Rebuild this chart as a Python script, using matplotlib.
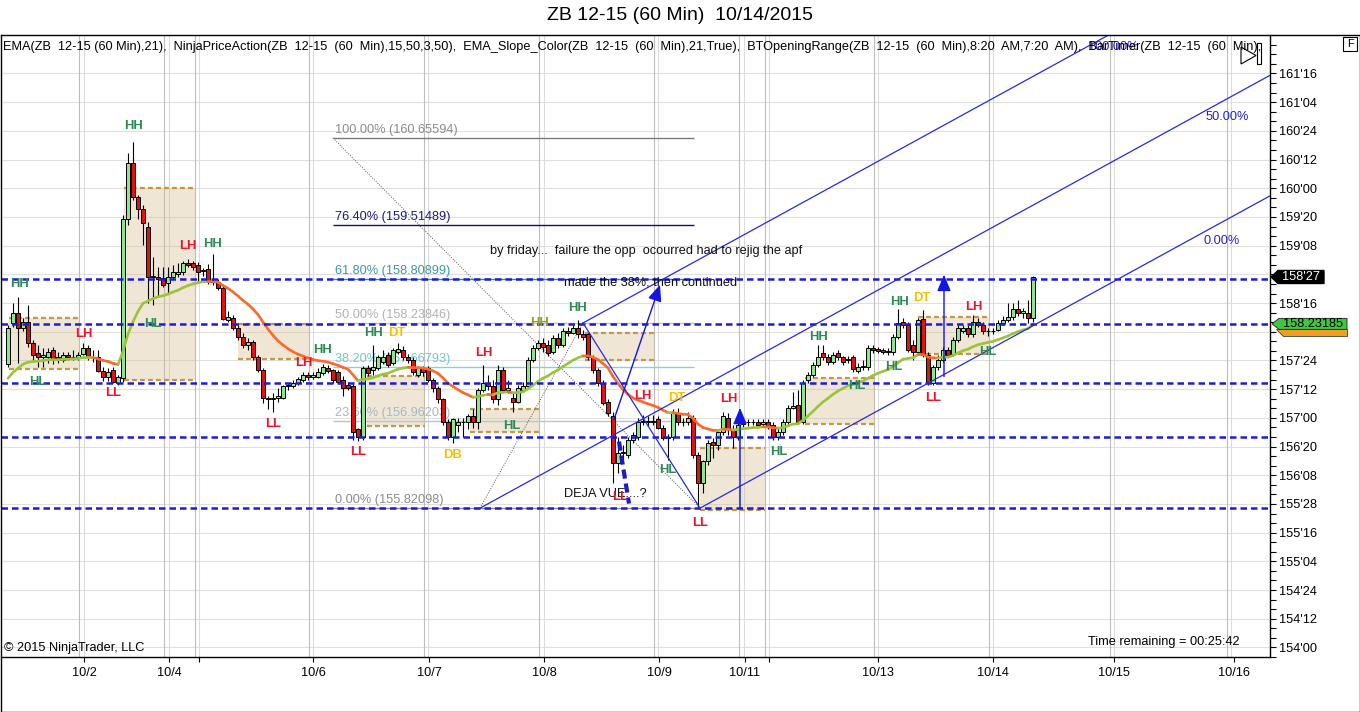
import numpy as np
import matplotlib
matplotlib.use('Agg')
import matplotlib.pyplot as plt
from matplotlib.collections import LineCollection
from matplotlib.patches import Rectangle, Polygon
from matplotlib.lines import Line2D

# ---------------- data ----------------
opens = [
157.70, 158.24, 158.37, 158.18, 158.25, 157.98, 157.85, 157.80, 157.80, 157.89,
157.79, 157.76, 157.82, 157.79, 157.79, 157.84, 157.91, 157.80, 157.80, 157.61,
157.54, 157.63, 157.46, 157.52, 159.60, 160.33, 159.89, 159.73, 159.50, 158.84,
158.84, 158.83, 158.76, 158.84, 158.88, 158.91, 159.03, 159.03, 159.00, 158.92,
158.95, 158.79, 158.78, 158.70, 158.28, 158.31, 158.18, 158.06, 157.95, 157.99,
157.80, 157.63, 157.26, 157.25, 157.26, 157.26, 157.41, 157.42, 157.46, 157.50,
157.56, 157.54, 157.54, 157.59, 157.65, 157.63, 157.60, 157.50, 157.43, 157.42,
156.85, 156.75, 157.65, 157.63, 157.65, 157.73, 157.82, 157.72, 157.86, 157.89,
157.80, 157.76, 157.56, 157.65, 157.65, 157.50, 157.39, 157.24, 156.95, 156.75,
156.91, 156.95, 156.94, 157.02, 156.94, 157.37, 157.45, 157.42, 157.24, 157.63,
157.37, 157.26, 157.21, 157.37, 157.41, 157.76, 157.91, 157.98, 157.95, 157.86,
158.04, 157.95, 158.13, 158.11, 158.18, 158.09, 158.09, 157.80, 157.63, 157.46,
157.21, 157.02, 156.41, 156.54, 156.52, 156.71, 156.75, 156.95, 156.96, 156.95,
156.98, 156.87, 156.74, 156.75, 157.07, 156.95, 156.94, 157.00, 156.52, 156.15,
156.43, 156.69, 156.65, 156.81, 157.00, 156.85, 156.75, 156.92, 156.95, 156.94,
156.95, 156.92, 156.95, 156.91, 156.75, 156.81, 156.94, 157.13, 157.17, 156.95,
157.50, 157.56, 157.69, 157.85, 157.80, 157.73, 157.85, 157.79, 157.76, 157.79,
157.61, 157.67, 157.67, 157.91, 157.90, 157.89, 157.88, 157.86, 158.06, 158.25,
158.21, 157.95, 157.86, 158.29, 157.82, 157.46, 157.67, 157.76, 157.89, 157.84,
158.02, 158.14, 158.18, 158.09, 158.25, 158.21, 158.13, 158.14, 158.15, 158.24,
158.28, 158.32, 158.42, 158.37, 158.37, 158.31]
highs = [
158.21, 158.50, 158.58, 158.31, 158.48, 158.02, 157.95, 157.91, 157.91, 157.93,
157.86, 157.86, 157.86, 157.89, 157.86, 157.98, 157.95, 157.89, 157.89, 157.67,
157.65, 157.67, 157.56, 159.65, 160.46, 160.61, 159.91, 159.78, 159.56, 159.10,
158.97, 158.97, 158.97, 159.00, 159.03, 159.05, 159.08, 159.05, 159.04, 158.96,
159.01, 159.14, 158.82, 158.74, 158.39, 158.35, 158.21, 158.11, 158.04, 158.02,
157.82, 157.65, 157.29, 157.32, 157.39, 157.43, 157.46, 157.50, 157.54, 157.60,
157.60, 157.60, 157.65, 157.71, 157.69, 157.64, 157.63, 157.55, 157.47, 157.46,
156.87, 157.68, 157.69, 157.95, 157.82, 157.89, 157.86, 157.91, 157.98, 157.94,
157.84, 157.79, 157.68, 157.68, 157.68, 157.52, 157.42, 157.26, 156.98, 157.00,
157.00, 157.00, 157.05, 157.11, 157.39, 157.69, 157.56, 157.50, 157.69, 157.67,
157.50, 157.33, 157.43, 157.47, 157.80, 157.95, 158.02, 158.04, 158.02, 158.08,
158.11, 158.18, 158.19, 158.21, 158.28, 158.15, 158.11, 157.82, 157.65, 157.50,
157.24, 157.08, 156.75, 156.65, 156.75, 156.82, 157.00, 157.04, 157.03, 157.04,
157.02, 156.91, 156.79, 157.11, 157.13, 157.00, 157.08, 157.04, 156.56, 156.45,
156.71, 156.74, 156.85, 157.08, 157.07, 156.91, 156.98, 157.00, 156.99, 156.99,
156.99, 156.98, 156.98, 156.94, 156.87, 156.98, 157.17, 157.34, 157.37, 157.50,
157.60, 157.73, 157.95, 157.95, 157.84, 157.86, 157.89, 157.81, 157.81, 157.82,
157.72, 157.76, 157.95, 157.95, 157.93, 157.91, 157.91, 158.09, 158.42, 158.31,
158.25, 158.02, 158.31, 158.41, 157.86, 157.69, 157.82, 157.93, 157.93, 158.06,
158.21, 158.21, 158.21, 158.35, 158.31, 158.25, 158.18, 158.17, 158.28, 158.33,
158.50, 158.50, 158.54, 158.44, 158.54, 158.86]
lows = [
157.66, 158.19, 157.72, 158.13, 157.93, 157.76, 157.67, 157.67, 157.72, 157.70,
157.72, 157.73, 157.76, 157.76, 157.76, 157.82, 157.76, 157.73, 157.60, 157.48,
157.48, 157.46, 157.43, 157.47, 159.52, 159.85, 159.60, 159.26, 158.50, 158.48,
158.58, 158.71, 158.63, 158.82, 158.84, 158.87, 158.97, 158.93, 158.79, 158.86,
158.75, 158.74, 158.67, 158.28, 158.25, 158.15, 158.02, 157.91, 157.89, 157.76,
157.60, 157.20, 157.11, 157.08, 157.21, 157.24, 157.37, 157.39, 157.43, 157.47,
157.50, 157.51, 157.52, 157.56, 157.58, 157.46, 157.45, 157.28, 157.37, 156.71,
156.70, 156.71, 157.55, 157.56, 157.63, 157.71, 157.67, 157.69, 157.84, 157.76,
157.72, 157.56, 157.54, 157.55, 157.47, 157.34, 157.20, 156.91, 156.71, 156.67,
156.82, 156.75, 156.85, 156.87, 156.85, 157.34, 157.37, 157.20, 157.17, 157.33,
157.33, 157.08, 157.19, 157.34, 157.38, 157.73, 157.89, 157.86, 157.81, 157.84,
157.91, 157.93, 158.07, 158.09, 158.05, 158.02, 157.76, 157.59, 157.42, 157.17,
157.03, 156.15, 156.28, 156.45, 156.48, 156.67, 156.71, 156.91, 156.90, 156.91,
156.85, 156.71, 156.45, 156.71, 156.91, 156.90, 156.91, 156.48, 155.83, 156.02,
156.39, 156.48, 156.58, 156.77, 156.78, 156.61, 156.71, 156.88, 156.90, 156.91,
156.88, 156.90, 156.86, 156.71, 156.71, 156.78, 156.91, 157.11, 156.92, 156.92,
157.46, 157.54, 157.67, 157.76, 157.69, 157.71, 157.76, 157.69, 157.72, 157.60,
157.59, 157.63, 157.63, 157.85, 157.85, 157.84, 157.82, 157.82, 158.03, 158.18,
157.86, 157.76, 157.82, 157.79, 157.43, 157.43, 157.63, 157.73, 157.79, 157.81,
157.99, 158.11, 158.06, 158.06, 158.19, 158.09, 158.07, 158.09, 158.13, 158.21,
158.25, 158.28, 158.33, 158.31, 158.24, 158.25]
closes = [
158.18, 158.37, 158.18, 158.25, 157.98, 157.82, 157.80, 157.82, 157.86, 157.76,
157.76, 157.82, 157.79, 157.80, 157.82, 157.91, 157.80, 157.79, 157.61, 157.54,
157.60, 157.47, 157.54, 159.60, 160.33, 159.89, 159.73, 159.55, 158.84, 158.86,
158.82, 158.73, 158.84, 158.91, 158.91, 159.03, 159.00, 158.97, 158.91, 158.93,
158.79, 158.78, 158.70, 158.29, 158.32, 158.18, 158.06, 157.95, 157.99, 157.80,
157.63, 157.26, 157.25, 157.26, 157.28, 157.41, 157.43, 157.46, 157.51, 157.56,
157.54, 157.56, 157.60, 157.67, 157.61, 157.50, 157.47, 157.39, 157.39, 156.82,
156.75, 157.65, 157.59, 157.67, 157.79, 157.80, 157.69, 157.89, 157.90, 157.80,
157.76, 157.60, 157.65, 157.60, 157.50, 157.39, 157.24, 156.95, 156.75, 156.98,
156.95, 156.94, 157.02, 156.95, 157.37, 157.46, 157.42, 157.24, 157.63, 157.37,
157.39, 157.21, 157.39, 157.41, 157.76, 157.91, 157.98, 157.93, 157.85, 158.04,
157.95, 158.13, 158.11, 158.18, 158.09, 158.06, 157.80, 157.63, 157.46, 157.20,
157.07, 156.41, 156.54, 156.56, 156.71, 156.77, 156.95, 156.96, 156.95, 156.96,
156.87, 156.74, 156.75, 157.07, 156.95, 156.94, 157.00, 156.52, 156.15, 156.43,
156.67, 156.65, 156.81, 157.02, 156.85, 156.75, 156.91, 156.95, 156.94, 156.95,
156.91, 156.94, 156.88, 156.75, 156.82, 156.94, 157.13, 157.16, 156.95, 157.46,
157.56, 157.69, 157.80, 157.79, 157.73, 157.82, 157.79, 157.73, 157.77, 157.64,
157.67, 157.67, 157.91, 157.89, 157.88, 157.86, 157.86, 158.06, 158.24, 158.21,
157.89, 157.86, 158.28, 157.82, 157.46, 157.67, 157.76, 157.89, 157.82, 158.02,
158.18, 158.18, 158.09, 158.25, 158.21, 158.13, 158.14, 158.13, 158.24, 158.28,
158.32, 158.42, 158.37, 158.39, 158.31, 158.84]

ema_seed = 157.45       # EMA value just before the first visible bar
ema_period = 21

day_ticks = [15.2, 32.2, 61.0, 84.2, 107.2, 130.2, 147.4, 174.0, 197.0, 221.2, 245.2]
day_labels = ['10/2', '10/4', '10/6', '10/7', '10/8', '10/9', '10/11', '10/13', '10/14', '10/15', '10/16']
extra_ticks = [38.2, 152.2]
grid_dark = [14.2, 31.2, 37.4, 60.2, 83.2, 106.2, 129.2, 146.2, 151.4, 173.2, 196.2, 220.4, 243.8]
grid_light = [15.2, 32.2, 38.2, 61.0, 84.0, 107.2, 130.0, 147.2, 152.2, 174.0, 197.0, 221.2, 244.6]

dashed_levels = [158.82, 158.23185, 157.46, 156.75, 155.82]

fib_x0, fib_x1 = 65.0, 137.2
fib_names = ['100.00%', '76.40%', '61.80%', '50.00%', '38.20%', '23.60%', '0.00%']
fib_prices = [160.65594, 159.51489, 158.80899, 158.23846, 157.66793, 156.96203, 155.82098]
fib_line_col = ['#7a7a7a', '#10106e', '#2f8f8f', '#c4c4c4', '#86d2d2', '#b4c6d4', '#8a8a8a']
fib_text_col = ['#8c8c8c', '#1c1c78', '#3c9a9a', '#b2b2b2', '#70c8c8', '#a6b8c8', '#8c8c8c']

box_x0 = [0.2, 23.2, 46.0, 71.8, 92.4, 115.4, 138.4, 159.4, 182.0]
box_x1 = [14.2, 37.4, 60.4, 83.4, 106.4, 129.4, 151.4, 173.4, 196.2]
box_top = [158.30, 160.01, 158.23, 157.55, 157.12, 158.11, 156.61, 157.52, 158.32]
box_bot = [157.64, 157.49, 157.77, 156.90, 156.82, 157.76, 155.80, 156.92, 157.83]

swing_txt = ['HH', 'LH', 'HL', 'LL', 'HH', 'LH', 'HH', 'HL', 'LH', 'LL', 'HH', 'HH', 'DT', 'LL',
             'DB', 'LH', 'HL', 'HH', 'HH', 'LH', 'DT', 'HL', 'LL', 'LL', 'LH', 'HL', 'HH', 'HL',
             'HL', 'HH', 'DT', 'LH', 'HL', 'LL']
swing_x = [2.4, 15.2, 6.0, 21.0, 25.2, 36.0, 41.0, 29.0, 59.2, 53.0, 63.0, 73.2, 77.8, 70.0,
           89.0, 95.2, 100.8, 106.4, 114.0, 127.0, 133.8, 132.0, 122.4, 138.4, 144.2, 154.2, 162.2, 169.8,
           177.2, 178.4, 182.8, 193.2, 196.0, 185.0]
swing_p = [158.75, 158.10, 157.47, 157.32, 160.81, 159.24, 159.27, 158.23, 157.72, 156.92, 157.89, 158.11, 158.11, 156.56,
           156.51, 157.85, 156.90, 158.24, 158.43, 157.29, 157.26, 156.32, 155.97, 155.63, 157.25, 156.56, 158.06, 157.41,
           157.66, 158.52, 158.56, 158.45, 157.86, 157.26]

chan_x0 = [115.0, 94.4, 138.4]
chan_p0 = [158.24, 155.82, 155.82]
chan_slope = 0.0358
chan_names = ['100.00%', '50.00%', '0.00%']
chan_lab_x = [221.0, 243.8, 242.8]
chan_lab_p = [161.85, 160.93, 159.31]

handle_x = [115.0, 138.4]
handle_p = [158.24, 155.82]
dot1_x, dot1_p = [65.0, 138.4], [160.65594, 155.82098]
dot2_x, dot2_p = [94.4, 115.0], [155.82, 158.24]
arrow_base_x = [121.2, 146.4, 187.2]
arrow_base_p = [156.98, 155.82, 157.54]
arrow_tip_x = [130.4, 146.4, 187.2]
arrow_tip_p = [158.74, 157.13, 158.87]
deja_x, deja_p = [122.2, 124.2], [156.69, 155.88]

last_price = 158.84375
level_price = 158.23185

notes = ['by friday...  failure the opp  ocourred had to rejig the apf',
         'made the 38%, then continued', 'DEJA VUE....?']
notes_x = [96.4, 111.2, 111.2]
notes_p = [159.18, 158.77, 156.00]

# ---------------- figure geometry ----------------
W, H = 1360, 712
plt.rcParams['font.family'] = ['Liberation Sans', 'DejaVu Sans']
fig = plt.figure(figsize=(W / 100, H / 100), dpi=100)
fig.patch.set_facecolor('white')

def fx(px):
    return px / W

def fy(py):
    return 1 - py / H

PL, PR, PT, PB = 1, 1270, 35, 657
YMIN, YMAX = 153.8825, 162.003
XMIN, XMAX = -1.4, 252.4
FS = 9.2

ax = fig.add_axes([fx(PL), fy(PB), fx(PR) - fx(PL), fy(PT) - fy(PB)])
ax.set_xlim(XMIN, XMAX)
ax.set_ylim(YMIN, YMAX)
ax.set_facecolor('white')
for s in ['top', 'left']:
    ax.spines[s].set_visible(False)
ax.spines['right'].set_linewidth(1.0)
ax.spines['bottom'].set_linewidth(1.0)

# y axis on the right in 32nds
major = [154 + 0.375 * k for k in range(21)]
minor = [153.875 + 0.125 * k for k in range(66)]
def fmt32(p):
    whole = int(p)
    return "%d'%02d" % (whole, int(round((p - whole) * 32)))
ylabels = []
for p in major:
    if abs(p - 158.125) < 1e-6 or abs(p - 158.875) < 1e-6:
        ylabels.append('')
    else:
        ylabels.append(fmt32(p))
ax.yaxis.tick_right()
ax.set_yticks(major)
ax.set_yticklabels(ylabels)
ax.set_yticks(minor, minor=True)
ax.tick_params(axis='y', which='both', direction='out', length=4.3, width=0.8, pad=2.2, labelsize=FS)
ax.set_xticks(day_ticks)
ax.set_xticklabels(day_labels)
ax.set_xticks(extra_ticks, minor=True)
ax.tick_params(axis='x', which='both', direction='out', length=3.8, width=0.8, pad=3.5, labelsize=FS)

# grid
for p in major:
    ax.axhline(p, color='#e0e0e0', lw=0.8, zorder=0.5)
for xg in grid_dark:
    ax.axvline(xg, color='#bdbdbd', lw=0.8, zorder=0.6)
for xg in grid_light:
    ax.axvline(xg, color='#dcdcdc', lw=0.8, zorder=0.6)

# opening range boxes
for x0, x1, t, b in zip(box_x0, box_x1, box_top, box_bot):
    ax.add_patch(Rectangle((x0, b), x1 - x0, t - b, facecolor='#d2b98c', alpha=0.35,
                           edgecolor='none', zorder=1))
    ax.hlines([t, b], x0, x1, colors='#c4974a', lw=1.6, linestyles=(0, (2.2, 1.4)), zorder=1.5)

# fibonacci retracement
for name, p, lc, tc in zip(fib_names, fib_prices, fib_line_col, fib_text_col):
    ax.hlines(p, fib_x0, fib_x1, colors=lc, lw=1.0, zorder=2)
    ax.annotate('%s (%.5f)' % (name, p), (fib_x0 + 0.4, p), xytext=(0, 1.5),
                textcoords='offset points', ha='left', va='bottom', color=tc,
                fontsize=FS, zorder=2.1)
ax.plot(dot1_x, dot1_p, color='#555555', lw=0.7, ls=(0, (1, 1.5)), zorder=2.5)
ax.plot(dot2_x, dot2_p, color='#555555', lw=0.7, ls=(0, (1, 1.5)), zorder=2.5)

# candles
o = np.array(opens); h = np.array(highs); l = np.array(lows); c = np.array(closes)
idx = np.arange(len(c))
up = c >= o
ax.vlines(idx, l, h, colors='black', lw=0.8, zorder=5)
ax.bar(idx, np.maximum(np.abs(c - o), 0.004), bottom=np.minimum(o, c), width=0.8,
       color=np.where(up, '#90e490', '#dd1414'), edgecolor='black', linewidth=0.7, zorder=6)

# EMA with slope colouring
alpha = 2.0 / (ema_period + 1)
ema = []
prev = ema_seed
for v in c:
    prev = prev + alpha * (v - prev)
    ema.append(prev)
ema = np.array(ema)
segs = [[(i - 1, ema[i - 1]), (i, ema[i])] for i in range(1, len(ema))]
cols = ['#9dc33b' if ema[i] >= ema[i - 1] else '#fb6a2c' for i in range(1, len(ema))]
ax.add_collection(LineCollection(segs, colors=cols, linewidths=1.9, capstyle='round', zorder=7))

# dashed horizontal levels
for p in dashed_levels:
    ax.axhline(p, color='#1c1cd8', lw=1.8, ls=(0, (2.6, 1.6)), zorder=8)

# channel / pitchfork lines
BLUE = '#2a2ae0'
for x0, p0 in zip(chan_x0, chan_p0):
    ax.plot([x0, XMAX], [p0, p0 + chan_slope * (XMAX - x0)], color=BLUE, lw=0.9, zorder=8)
for name, xl, pl in zip(chan_names, chan_lab_x, chan_lab_p):
    ax.text(xl, pl, name, color='#2222c8', fontsize=FS, ha='center', va='center', zorder=9)
ax.plot(handle_x, handle_p, color=BLUE, lw=0.9, zorder=8)
for bx, bp, tx, tp in zip(arrow_base_x, arrow_base_p, arrow_tip_x, arrow_tip_p):
    ax.annotate('', xy=(tx, tp), xytext=(bx, bp),
                arrowprops=dict(arrowstyle='-|>,head_length=1.0,head_width=0.42', color='#1414e6',
                                lw=1.0, mutation_scale=10, shrinkA=0, shrinkB=0), zorder=9)
ax.plot(deja_x, deja_p, color='#1a1acc', lw=3.0, ls=(0, (2.2, 1.2)), zorder=8.5)

# text notes
for t, xn, pn in zip(notes, notes_x, notes_p):
    ax.text(xn, pn, t, fontsize=FS, color='#111111', ha='left', va='center', zorder=9)

# swing labels
col_map = {'HH': '#2c8a56', 'HL': '#2c8a56', 'LH': '#e8142e', 'LL': '#e8142e',
           'DT': '#f2c200', 'DB': '#f2c200'}
for k, (t, xs, ps) in enumerate(zip(swing_txt, swing_x, swing_p)):
    colr = col_map[t]
    if k == 17:
        colr = '#8e9c22'
    ax.text(xs, ps, t, fontsize=9.4, fontweight='bold', color=colr, ha='center', va='center', zorder=10)

# header line inside the panel
hdr = ('EMA(ZB  12-15 (60 Min),21),  NinjaPriceAction(ZB  12-15  (60  Min),15,50,3,50),  '
       'EMA_Slope_Color(ZB  12-15  (60  Min),21,True),  BTOpeningRange(ZB  12-15  (60  Min),8:20  AM,7:20  AM),  '
       'BarTimer(ZB  12-15  (60  Min),  ')
ax.text((3 - PL) / (PR - PL), (PB - 47) / (PB - PT), hdr, transform=ax.transAxes, fontsize=FS,
        ha='left', va='center', color='black', clip_on=True, zorder=11)

# right-hand price markers
ax2 = fig.add_axes([fx(PR), fy(PB), fx(1359) - fx(PR), fy(PT) - fy(PB)])
ax2.set_xlim(PR, 1359)
ax2.set_ylim(YMIN, YMAX)
ax2.axis('off')
ppx = (YMAX - YMIN) / (PB - PT)
hh = 6.5 * ppx
ax2.add_patch(Polygon([(1271, last_price), (1278, last_price + hh), (1324, last_price + hh),
                       (1324, last_price - hh), (1278, last_price - hh)], closed=True,
                      facecolor='black', edgecolor='black', zorder=5, clip_on=False))
ax2.text(1301, last_price, fmt32(last_price), color='white', fontsize=FS, ha='center', va='center',
         zorder=6, clip_on=False)
gh = 5.5 * ppx
ax2.add_patch(Polygon([(1276, level_price - gh), (1347, level_price - gh), (1347, level_price - gh - 7 * ppx),
                       (1283, level_price - gh - 7 * ppx)], closed=True, facecolor='#f0a020',
                      edgecolor='#444444', lw=0.6, zorder=4, clip_on=False))
ax2.add_patch(Polygon([(1272, level_price), (1279, level_price + gh), (1347, level_price + gh),
                       (1347, level_price - gh), (1279, level_price - gh)], closed=True,
                      facecolor='#3ec83e', edgecolor='#222222', lw=0.6, zorder=5, clip_on=False))
ax2.text(1313, level_price, '%.5f' % level_price, color='black', fontsize=FS, ha='center', va='center',
         zorder=6, clip_on=False)

# frame, title and small texts
def fig_line(x0, y0, x1, y1, lw=1.0, col='black'):
    fig.add_artist(Line2D([fx(x0), fx(x1)], [fy(y0), fy(y1)], color=col, lw=lw,
                          transform=fig.transFigure))
fig_line(0.5, PT, 1359.5, PT)
fig_line(0.5, PT, 0.5, 711.5)
fig_line(1359.5, PT, 1359.5, 711.5)
fig_line(0.5, 711.5, 1359.5, 711.5)

fig.text(0.5, fy(16), 'ZB 12-15 (60 Min)  10/14/2015', ha='center', va='center', fontsize=14)
fig.text(fx(4), fy(648), '\u00a9 2015 NinjaTrader, LLC', ha='left', va='center', fontsize=FS)
fig.text(fx(1240), fy(642), 'Time remaining = 00:25:42', ha='right', va='center', fontsize=FS)

# 'F' box and play icon
fig.add_artist(Rectangle((fx(1343), fy(51)), fx(14), fy(37) - fy(51), fill=False, lw=0.8,
                         edgecolor='black', transform=fig.transFigure))
fig.text(fx(1350), fy(44), 'F', ha='center', va='center', fontsize=8)
fig.add_artist(Polygon([(fx(1241), fy(47)), (fx(1241), fy(64)), (fx(1256), fy(55.5))], closed=True,
                       fill=False, lw=0.8, edgecolor='black', transform=fig.transFigure))
fig.add_artist(Rectangle((fx(1257), fy(64)), fx(4), fy(43) - fy(64), fill=False, lw=0.8,
                         edgecolor='black', transform=fig.transFigure))

fig.savefig('out.png', dpi=100, facecolor='white')
